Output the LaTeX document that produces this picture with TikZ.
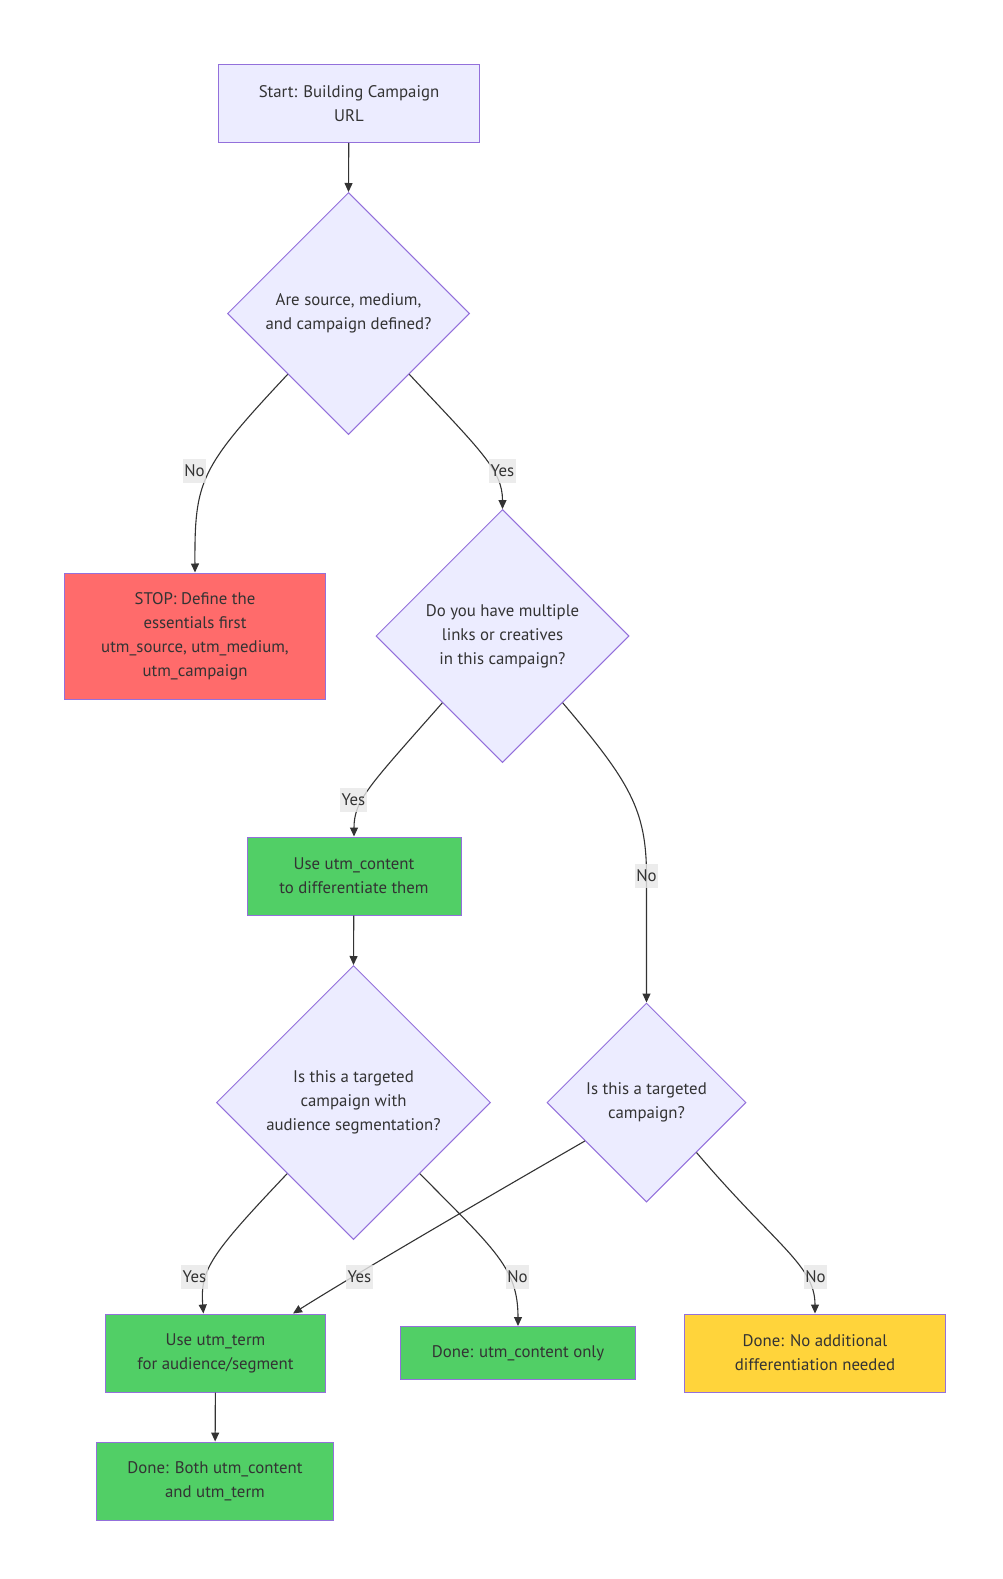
\documentclass[tikz,border=0pt]{standalone}
\usepackage{fontspec}
\setmainfont{PT Sans}
\usetikzlibrary{shapes.geometric,arrows.meta}
\definecolor{nodefill}{HTML}{ECECFF}
\definecolor{nodeline}{HTML}{9370DB}
\definecolor{stopred}{HTML}{FF6B6B}
\definecolor{okgreen}{HTML}{51CF66}
\definecolor{donegold}{HTML}{FFD43B}
\definecolor{ink}{HTML}{333333}
\definecolor{lblfill}{HTML}{E8E8E8}
\newcommand{\flowfont}{\fontsize{16.8}{24}\selectfont}
\tikzset{
  box/.style={draw=nodeline, fill=nodefill, line width=1pt, inner sep=0pt,
    align=center, text=ink, font=\flowfont},
  decision/.style={diamond, aspect=1, draw=nodeline, fill=nodefill, line width=1pt,
    inner sep=0pt, align=center, text=ink, font=\flowfont},
  elabel/.style={fill=lblfill, fill opacity=0.8, text opacity=1, text=ink,
    inner xsep=1.5pt, inner ysep=0pt, minimum height=24pt, font=\flowfont},
  flow/.style={->, draw=ink, line width=1.1pt}
}
\begin{document}
\begin{tikzpicture}[x=1pt, y=-1pt, >={Triangle[length=9pt,width=8pt]}]
  \useasboundingbox[fill=white] (0,0) rectangle (1002,1579);
  % nodes
  \node[box, minimum width=261, minimum height=78] (start) at (349,103.5) {Start: Building Campaign\\URL};
  \node[decision, minimum width=242, minimum height=242] (srcq) at (348.5,313.5) {Are source, medium,\\and campaign defined?};
  \node[box, fill=stopred, minimum width=261, minimum height=126] (stop) at (195,636) {STOP: Define the\\essentials first\\utm\_source, utm\_medium,\\utm\_campaign};
  \node[decision, minimum width=253, minimum height=253] (multq) at (502.5,636) {Do you have multiple\\links or creatives\\in this campaign?};
  \node[box, fill=okgreen, minimum width=214, minimum height=78] (content) at (354,876) {Use utm\_content\\to differentiate them};
  \node[decision, minimum width=274, minimum height=274] (segq) at (353.5,1102.5) {Is this a targeted\\campaign with\\audience segmentation?};
  \node[decision, minimum width=199, minimum height=199] (targq) at (646.5,1102.5) {Is this a targeted\\campaign?};
  \node[box, fill=okgreen, minimum width=220, minimum height=78] (term) at (215.5,1353) {Use utm\_term\\for audience/segment};
  \node[box, fill=okgreen, minimum width=235, minimum height=53] (onlyc) at (518,1353) {Done: utm\_content only};
  \node[box, fill=donegold, minimum width=261, minimum height=78] (nodiff) at (815,1353) {Done: No additional\\differentiation needed};
  \node[box, fill=okgreen, minimum width=237, minimum height=78] (both) at (215,1481) {Done: Both utm\_content\\and utm\_term};
  % connectors
  \draw[flow] (start) -- (srcq.north);
  \draw[flow] (srcq.225) .. controls (200,468) and (194.5,480) .. (stop.north);
  \draw[flow] (srcq.-45) .. controls (480,450) and (502.5,470) .. (multq.north);
  \draw[flow] (multq.228.6) .. controls (370,785) and (354,800) .. (content.north);
  \draw[flow] (multq.-48.6) .. controls (630,782) and (646.5,810) .. (646.5,876) -- (targq.north);
  \draw[flow] (content) -- (segq.north);
  \draw[flow] (segq.227) .. controls (210,1255) and (200,1270) .. (term.107);
  \draw[flow] (targq.212) .. controls (420,1236) and (330,1290) .. (term.27.6);
  \draw[flow] (segq.-47) .. controls (495,1250) and (518,1268) .. (onlyc.north);
  \draw[flow] (targq.-45) .. controls (775,1245) and (815,1265) .. (nodiff.north);
  \draw[flow] (term) -- (both);
  % edge labels
  \node[elabel] (lno1) at (194.5,471) {No};
  \node[elabel] (lyes1) at (502.5,471) {Yes};
  \node[elabel] (lyes2) at (353.5,800) {Yes};
  \node[elabel] (lno2) at (646.5,876) {No};
  \node[elabel] (lyes3) at (194.5,1277) {Yes};
  \node[elabel] (lyes4) at (359.5,1277) {Yes};
  \node[elabel] (lno3) at (517.5,1277) {No};
  \node[elabel] (lno4) at (815.5,1277) {No};
\end{tikzpicture}
\end{document}
